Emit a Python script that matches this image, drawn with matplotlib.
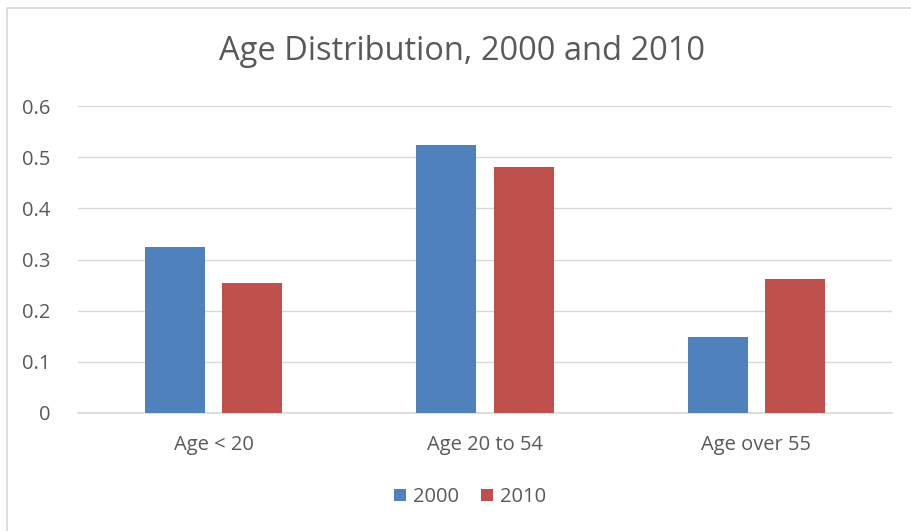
import numpy as np
import matplotlib.pyplot as plt
from matplotlib.patches import Rectangle

plt.rcParams["font.family"] = ["Open Sans", "DejaVu Sans"]

categories = ["Age < 20", "Age 20 to 54", "Age over 55"]
series_names = ["2000", "2010"]
values_2000 = [0.324, 0.523, 0.149]
values_2010 = [0.255, 0.481, 0.261]

c_blue = "#4f81bd"
c_red = "#c0504d"
txt = "#595959"
grid = "#d9d9d9"

fig = plt.figure(figsize=(9.12, 5.31), dpi=100)
# chart border (cropped on right/bottom like the screenshot)
fig.patches.append(Rectangle((7 / 912, -0.1), 1.2, 1 - 8 / 531 + 0.1,
                             transform=fig.transFigure, fill=False,
                             edgecolor=grid, linewidth=1.2))

ax = fig.add_axes([78 / 912, 1 - 413 / 531, (892 - 78) / 912, (413 - 106) / 531])

x = np.arange(len(categories))
w = 0.221
off = 0.142
ax.bar(x - off, values_2000, w, color=c_blue, label=series_names[0], zorder=3)
ax.bar(x + off, values_2010, w, color=c_red, label=series_names[1], zorder=3)

ax.set_xlim(-0.5, 2.5)
ax.set_ylim(0, 0.6)
ax.set_yticks([0, 0.1, 0.2, 0.3, 0.4, 0.5, 0.6])
ax.set_yticklabels(["0", "0.1", "0.2", "0.3", "0.4", "0.5", "0.6"])
ax.set_xticks(x)
ax.set_xticklabels(categories)
ax.yaxis.grid(True, color=grid, linewidth=1, zorder=0)
ax.set_axisbelow(True)
for s in ["top", "right", "left"]:
    ax.spines[s].set_visible(False)
ax.spines["bottom"].set_color(grid)
ax.spines["bottom"].set_linewidth(1.2)
ax.tick_params(axis="both", length=0, labelsize=14.5, colors=txt)
ax.tick_params(axis="y", pad=20)
ax.tick_params(axis="x", pad=16)

fig.text(0.5 + 6 / 912, 1 - 52 / 531, "Age Distribution, 2000 and 2010", ha="center",
         va="center", fontsize=23.5, color=txt)

leg = fig.legend(loc="center", bbox_to_anchor=(470 / 912, 1 - 497 / 531), ncol=2,
                 frameon=False, fontsize=14.5, handlelength=0.6, handleheight=0.6,
                 handletextpad=0.35, columnspacing=1.1)
for t in leg.get_texts():
    t.set_color(txt)

fig.savefig("out.png", dpi=100)
